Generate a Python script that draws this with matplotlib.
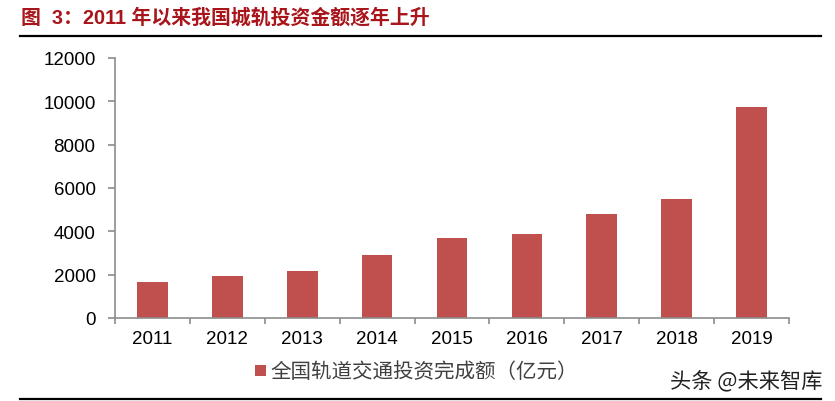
import matplotlib
matplotlib.use("Agg")
import matplotlib.pyplot as plt
import numpy as np
from matplotlib.lines import Line2D
from matplotlib.patches import Rectangle

years = ["2011", "2012", "2013", "2014", "2015", "2016", "2017", "2018", "2019"]
invest = [1650, 1950, 2180, 2920, 3690, 3860, 4790, 5470, 9760]
yticks = [0, 2000, 4000, 6000, 8000, 10000, 12000]
title = "图  3：2011 年以来我国城轨投资金额逐年上升"
legend_label = "全国轨道交通投资完成额（亿元）"
watermark = "头条 @未来智库"

FAM = ["Liberation Sans", "Noto Sans CJK SC", "DejaVu Sans"]
plt.rcParams["font.family"] = FAM

fig = plt.figure(figsize=(8.35, 4.02), dpi=100)
ax = fig.add_axes([115 / 835, 1 - 319 / 402, 674 / 835, 260 / 402])

x = np.arange(len(years))
bar_color = "#C0504D"
ax.bar(x, invest, width=0.41, color=bar_color, edgecolor="none")

ax.set_xlim(-0.5, len(years) - 0.5)
ax.set_ylim(0, 12000)
ax.set_yticks(yticks)
ax.set_yticklabels([str(v) for v in yticks])
ax.set_xticks(x)
ax.set_xticklabels(years)
ax.set_xticks(np.arange(-0.5, len(years), 1.0), minor=True)

gray = "#8C8C8C"
for s in ["top", "right"]:
    ax.spines[s].set_visible(False)
for s in ["left", "bottom"]:
    ax.spines[s].set_color(gray)
    ax.spines[s].set_linewidth(1.2)

ax.tick_params(axis="x", which="major", length=0, pad=9, labelsize=13.5, colors="black")
ax.tick_params(axis="x", which="minor", length=4, width=1.2, color=gray, direction="out")
ax.tick_params(axis="y", which="major", length=5, width=1.2, color=gray, direction="out",
               pad=9, labelsize=13.5, labelcolor="black")

# Title
fig.text(21 / 835, 1 - 18 / 402, title, fontsize=14.3, fontweight="bold",
         color="#A8151B", ha="left", va="center", family=FAM)
# Lines
fig.add_artist(Line2D([20 / 835, 821 / 835], [1 - 37 / 402, 1 - 37 / 402],
                      color="black", linewidth=1.6, transform=fig.transFigure))
fig.add_artist(Line2D([20 / 835, 821 / 835], [1 - 400 / 402, 1 - 400 / 402],
                      color="black", linewidth=1.6, transform=fig.transFigure))

# Legend
fig.add_artist(Rectangle((255 / 835, 1 - 377 / 402), 11 / 835, 11 / 402,
                         facecolor=bar_color, edgecolor="none", transform=fig.transFigure))
fig.text(270 / 835, 1 - 372 / 402, legend_label, fontsize=14.8, color="#404040",
         fontweight="light", ha="left", va="center",
         family=["Noto Sans CJK SC", "DejaVu Sans"])

# Watermark
fig.text(823 / 835, 1 - 381 / 402, watermark, fontsize=15.3, color="#222222",
         fontweight="light", ha="right", va="center",
         family=["Noto Sans CJK SC", "DejaVu Sans"])

fig.savefig("out.png", dpi=100)
